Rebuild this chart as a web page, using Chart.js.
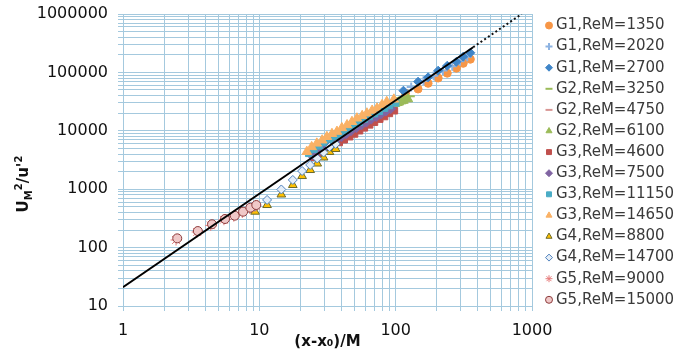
<!DOCTYPE html>
<html>
<head>
<meta charset="utf-8">
<script src="https://cdn.jsdelivr.net/npm/chart.js@4"></script>
<style>
  html, body { margin: 0; padding: 0; background: #fff; }
</style>
</head>
<body>
<canvas id="myChart" width="685" height="360"></canvas>
<script>
// measured points, [x, y] per series
const g1Re1350 = [[118, 44000], [146, 52000], [173, 65000], [205, 80000], [239, 97000], [279, 118000], [313, 143000], [353, 168000]];
const g1Re2020 = [[130, 56000], [160, 72000], [190, 88000], [222, 108000], [260, 128000], [296, 155000], [335, 185000]];
const g1Re2700 = [[114, 48600], [146, 69300], [173, 82400], [205, 107000], [239, 130000], [279, 152000], [313, 186000], [353, 217000]];
const g2Re3250 = [[94, 31000], [98, 32500], [101, 33500], [105, 35000], [109, 36000], [114, 37000], [118, 37500], [127, 39000]];
const g2Re4750 = [[90, 25000], [97, 27000], [104, 28500], [112, 30500], [120, 32000]];
const g2Re6100 = [[92, 27000], [95, 28200], [99, 29000], [103, 30200], [106, 31000], [110, 32300], [114, 33000], [123, 35000]];
const g3Re4600 = [[25, 3500], [27.4, 4000], [30, 4500], [32.6, 5000], [35.5, 5600], [38.6, 6300], [42, 7000], [46, 7900], [50, 8800],
  [54.4, 10000], [59, 11200], [64.5, 12600], [70, 14000], [76.5, 15800], [83, 17500], [90, 19800], [98, 22000]];
const g3Re7500 = [[24, 3900], [26.2, 4400], [28.5, 5000], [31, 5600], [33.5, 6300], [36.6, 7100], [40, 7900], [43.4, 8900], [47, 10000],
  [51.5, 11300], [56, 12600], [61, 14100], [66, 15800], [72, 17600], [78, 19500], [85, 21800], [92, 24000]];
const g3Re11150 = [[23, 4100], [25.2, 4800], [27.5, 5500], [30, 6300], [32.5, 7000], [35.4, 7800], [38.5, 8600], [42, 9900], [45.5, 11000],
  [49.6, 12600], [54, 14000], [59, 15900], [64, 17500], [70, 19600], [76, 21500], [83, 24400], [90, 27000], [100, 30000]];
const g3Re14650 = [[22.3, 4390], [24.2, 5300], [26.4, 6100], [28.9, 6900], [31.3, 7900], [34.1, 8900], [37.1, 9700], [40.3, 11200], [44, 12600],
  [47.8, 14300], [52, 16400], [56.8, 18100], [61.5, 20000], [67.2, 22300], [73, 24300], [79.5, 27900], [86, 31500], [97, 34600]];
const g4Re8800 = [[9.3, 412], [11.4, 536], [14.5, 811], [17.6, 1180], [20.6, 1680], [23.6, 2130], [26.6, 2750], [29.6, 3490], [32.7, 4340], [36.3, 4880]];
const g4Re14700 = [[9.3, 500], [11.4, 655], [14.5, 990], [17.6, 1440], [20.6, 2050], [23.6, 2600], [26.6, 3360], [29.6, 4250], [32.7, 5290], [36.3, 5950]];
const g5Re9000 = [[2.45, 135], [3.5, 185], [4.4, 240], [5.5, 300], [6.5, 345], [7.5, 400], [8.5, 470], [9.4, 520]];
const g5Re15000 = [[2.5, 144], [3.54, 192], [4.5, 251], [5.6, 309], [6.6, 352], [7.6, 412], [8.6, 482], [9.5, 536]];

const seriesData = [g1Re1350, g1Re2020, g1Re2700, g2Re3250, g2Re4750, g2Re6100, g3Re4600,
  g3Re7500, g3Re11150, g3Re14650, g4Re8800, g4Re14700, g5Re9000, g5Re15000];
const seriesLabels = ["G1,ReM=1350", "G1,ReM=2020", "G1,ReM=2700", "G2,ReM=3250", "G2,ReM=4750",
  "G2,ReM=6100", "G3,ReM=4600", "G3,ReM=7500", "G3,ReM=11150", "G3,ReM=14650",
  "G4,ReM=8800", "G4,ReM=14700", "G5,ReM=9000", "G5,ReM=15000"];

// power-law fit line, solid over the data and dotted beyond
const fitSolid = [[1, 21], [370, 270000]];
const fitDotted = [[370, 270000], [840, 1000000]];

const xTickLabels = [1, 10, 100, 1000];
const yTickLabels = [10, 100, 1000, 10000, 100000, 1000000];

// marker look for each series
const seriesStyles = [
  {shape: "circle", fill: "#f79646", line: "#f79646", r: 4},
  {shape: "cross", fill: "#8db3e2", line: "#8db3e2", r: 4.5},
  {shape: "rectRot", fill: "#3f85c8", line: "#3f85c8", r: 4.5},
  {shape: "line", fill: "#9bbb59", line: "#9bbb59", r: 5},
  {shape: "line", fill: "#d99694", line: "#d99694", r: 5},
  {shape: "triangle", fill: "#9bbb59", line: "#9bbb59", r: 5.5},
  {shape: "rect", fill: "#c0504d", line: "#c0504d", r: 4.5},
  {shape: "rectRot", fill: "#8064a2", line: "#8064a2", r: 5},
  {shape: "rect", fill: "#4bacc6", line: "#4bacc6", r: 4.5},
  {shape: "triangle", fill: "#fab165", line: "#fab165", r: 5.5},
  {shape: "triangle", fill: "#ffc000", line: "#6b6a2c", r: 5},
  {shape: "rectRot", fill: "#e4edf7", line: "#4f81bd", r: 4.5},
  {shape: "star", fill: "#e67b7b", line: "#e67b7b", r: 5.5},
  {shape: "circle", fill: "#f0c8c8", line: "#8c3b3b", r: 4.5},
];

const gridColor = "#a4c9de";
const toPoints = arr => arr.map(p => ({x: p[0], y: p[1]}));

const isPow10 = v => {
  const l = Math.log10(v);
  return Math.abs(l - Math.round(l)) < 1e-9;
};
// drop the 1.5 steps chart.js adds in each decade
const noHalfSteps = scale => {
  scale.ticks = scale.ticks.filter(t => {
    const m = t.value / Math.pow(10, Math.floor(Math.log10(t.value) + 1e-9));
    return Math.abs(m - 1.5) > 1e-6;
  });
};

const datasets = seriesData.map((d, i) => ({
  label: seriesLabels[i],
  data: toPoints(d),
  pointStyle: seriesStyles[i].shape,
  pointRadius: seriesStyles[i].r,
  backgroundColor: seriesStyles[i].fill,
  borderColor: seriesStyles[i].line,
  pointBorderWidth: seriesStyles[i].shape === "line" || seriesStyles[i].shape === "cross" ? 2 : 1,
  order: seriesData.length - i + 1,
}));

datasets.push({
  label: "fit",
  data: toPoints(fitSolid),
  showLine: true,
  pointRadius: 0,
  borderColor: "#000",
  borderWidth: 1.8,
  order: 0,
});
datasets.push({
  label: "fit ext",
  data: toPoints(fitDotted),
  showLine: true,
  pointRadius: 0,
  borderColor: "#111",
  borderWidth: 2,
  borderDash: [2, 2.5],
  order: 0,
});

// y title with sub/superscripts, and the legend on the right
const extras = {
  id: "extras",
  afterDraw(chart) {
    const ctx = chart.ctx;
    ctx.save();
    const parts = [["U", 15, 0], ["M", 10, 4], ["2", 10, -6], ["/u'", 15, 0], ["2", 10, -6]];
    let total = 0;
    parts.forEach(p => {
      ctx.font = "bold " + p[1] + "px 'DejaVu Sans'";
      total += ctx.measureText(p[0]).width;
    });
    ctx.translate(28, 184);
    ctx.rotate(-Math.PI / 2);
    ctx.fillStyle = "#111";
    ctx.textBaseline = "alphabetic";
    let x = -total / 2;
    parts.forEach(p => {
      ctx.font = "bold " + p[1] + "px 'DejaVu Sans'";
      ctx.fillText(p[0], x, p[2]);
      x += ctx.measureText(p[0]).width;
    });
    ctx.restore();

    ctx.save();
    ctx.font = "15px 'DejaVu Sans'";
    ctx.textBaseline = "middle";
    seriesLabels.forEach((lab, i) => {
      const y = 25.5 + i * 21.1;
      const st = seriesStyles[i];
      ctx.fillStyle = st.fill;
      ctx.strokeStyle = st.line;
      ctx.lineWidth = st.shape === "line" || st.shape === "cross" ? 2 : 1;
      Chart.helpers.drawPoint(ctx, {pointStyle: st.shape, radius: 3.5, rotation: 0,
        borderWidth: ctx.lineWidth}, 549, y);
      ctx.fillStyle = "#3a3a3a";
      ctx.fillText(lab, 556, y);
    });
    ctx.restore();
  }
};

Chart.defaults.font.family = "'DejaVu Sans', Verdana, sans-serif";

new Chart(document.getElementById("myChart"), {
  type: "scatter",
  data: {datasets},
  plugins: [extras],
  options: {
    responsive: false,
    animation: false,
    layout: {padding: {top: 14, right: 153, bottom: 0, left: 0}},
    plugins: {
      legend: {display: false},
      tooltip: {enabled: false},
    },
    scales: {
      x: {
        type: "logarithmic",
        min: 1,
        max: 1000,
        afterBuildTicks: noHalfSteps,
        afterFit: s => { s.height = 54; s.paddingLeft = 0; s.paddingRight = 0; },
        grid: {color: gridColor, tickLength: 5},
        border: {color: gridColor},
        ticks: {
          autoSkip: false,
          maxRotation: 0,
          padding: 10,
          color: "#111",
          font: {size: 16},
          callback: v => (xTickLabels.includes(v) && isPow10(v) ? String(v) : ""),
        },
        title: {
          display: true,
          text: "(x-x\u2080)/M",
          color: "#111",
          font: {size: 15, weight: "bold"},
          padding: {top: 0, bottom: 9},
        },
      },
      y: {
        type: "logarithmic",
        min: 10,
        max: 1000000,
        afterBuildTicks: noHalfSteps,
        afterFit: s => { s.width = 123; s.paddingTop = 0; s.paddingBottom = 0; },
        grid: {color: gridColor, tickLength: 5},
        border: {color: gridColor},
        ticks: {
          autoSkip: false,
          padding: 10,
          color: "#111",
          font: {size: 16},
          callback: v => (yTickLabels.includes(v) ? String(v) : ""),
        },
      },
    },
  },
});
</script>
</body>
</html>
